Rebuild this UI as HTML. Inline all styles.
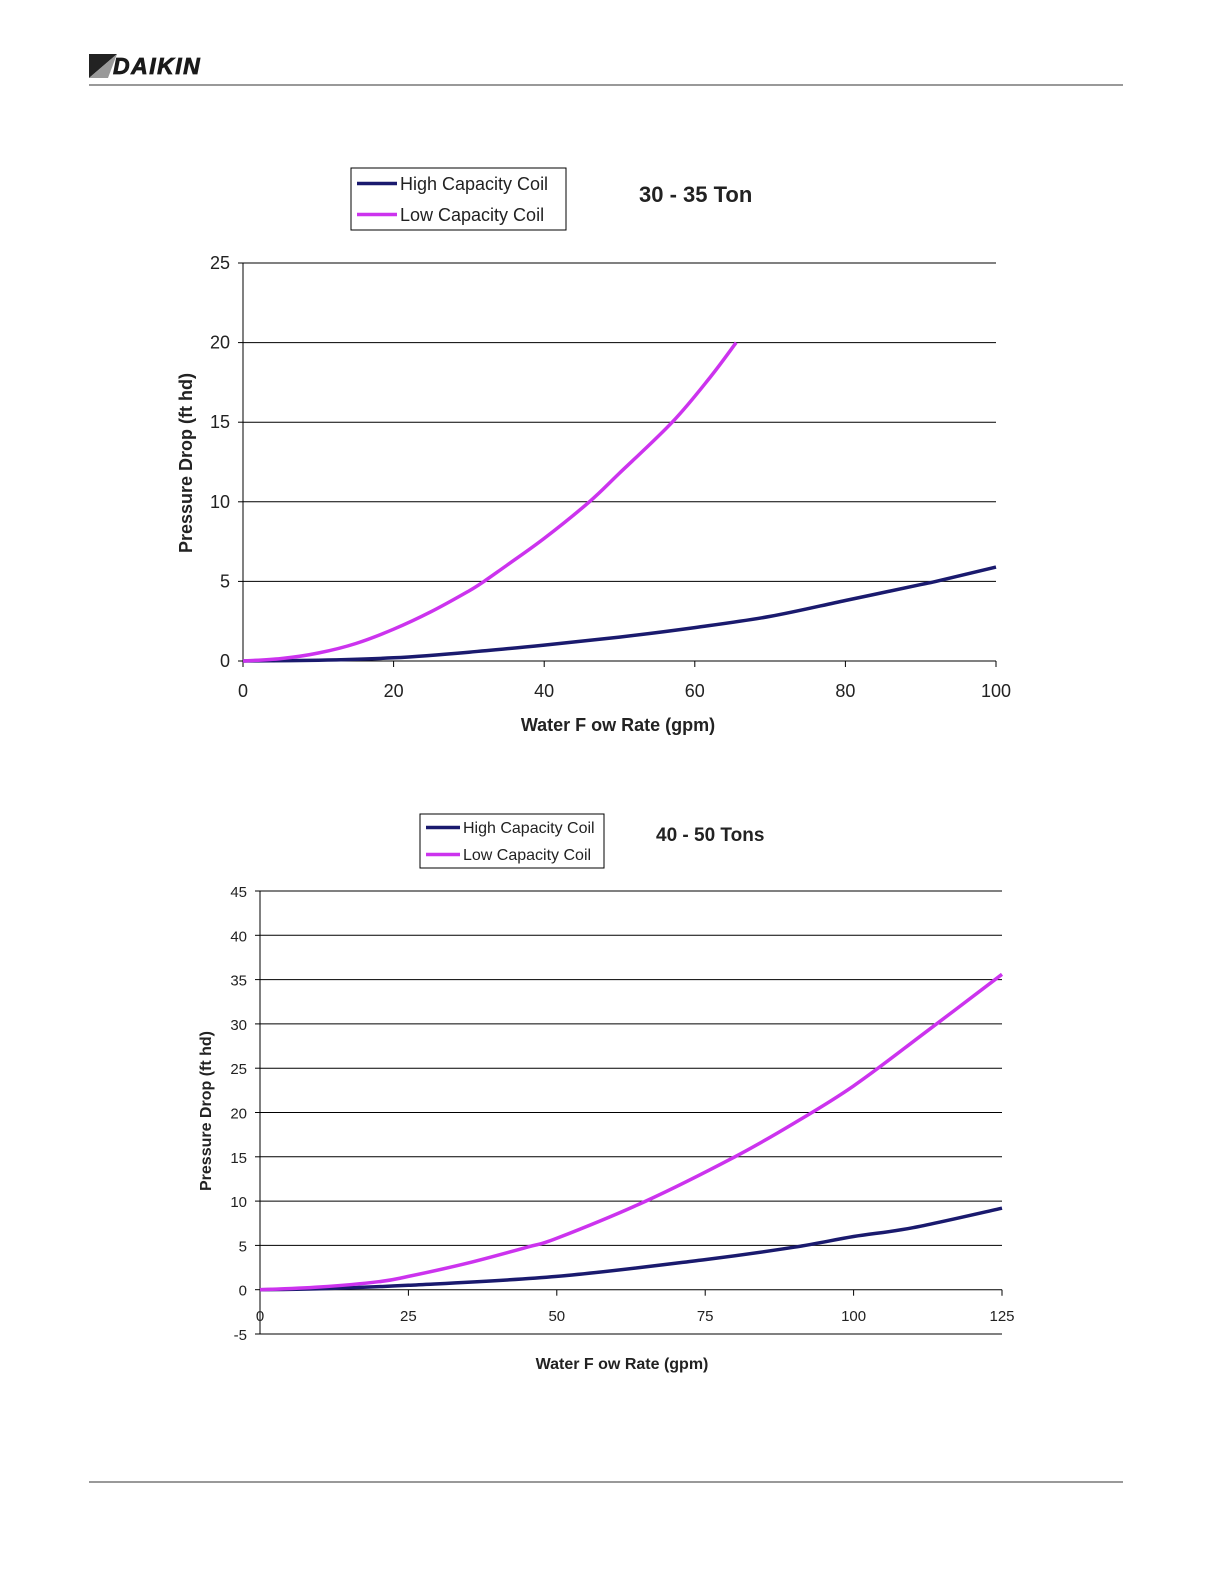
<!DOCTYPE html>
<html><head><meta charset="utf-8">
<style>
body{margin:0;background:#fff;font-family:"Liberation Sans",sans-serif;}
#page{position:relative;width:1224px;height:1584px;overflow:hidden;}
</style></head>
<body>
<div id="page">
<svg width="1224" height="1584" xmlns="http://www.w3.org/2000/svg" font-family="Liberation Sans, sans-serif">
  <g>
    <polygon points="89,54 117,54 89,78" fill="#222"/>
    <polygon points="89,78 117,54 108,78" fill="#999"/>
    <text x="113" y="74" font-size="23" font-weight="900" font-style="italic" fill="#1a1a1a" letter-spacing="1.5" stroke="#1a1a1a" stroke-width="0.8">DAIKIN</text>
  </g>
  <line x1="89" y1="85" x2="1123" y2="85" stroke="#333" stroke-width="1"/>
  <line x1="89" y1="1482" x2="1123" y2="1482" stroke="#333" stroke-width="1"/>
  <g id="c1"></g>
  <g id="c2"></g>
</svg>
</div>
<script>
const c1X = [0,5,10,15,20,25,30,32,35,40,46,50,57,62,65.5];
const c1Low = [0,0.15,0.5,1.1,2,3.1,4.4,5,6,7.7,10,11.8,15,17.8,20];
const c1HighX = [0,10,20,30,40,50,60,70,80,90,92,100];
const c1High = [0,0.05,0.2,0.55,1,1.5,2.1,2.8,3.8,4.8,5,5.9];
const c1XTicks = [0,20,40,60,80,100];
const c1YTicks = [0,5,10,15,20,25];

const c2X = [0,10,20,25,35,45,50,65,80,90,100,112,125];
const c2Low = [0,0.3,0.9,1.5,3,4.8,5.8,10,15,18.8,23,29,35.6];
const c2HighX = [0,10,25,50,75,90,100,110,125];
const c2High = [0,0.1,0.5,1.5,3.4,4.8,6,7,9.2];
const c2XTicks = [0,25,50,75,100,125];
const c2YTicks = [-5,0,5,10,15,20,25,30,35,40,45];

const NS="http://www.w3.org/2000/svg";
function mk(parent,tag,attrs,text){const e=document.createElementNS(NS,tag);for(const k in attrs)e.setAttribute(k,attrs[k]);if(text!==undefined)e.textContent=text;parent.appendChild(e);return e;}
function smooth(pts){
  let d='M'+pts[0][0].toFixed(1)+','+pts[0][1].toFixed(1);
  for(let i=0;i<pts.length-1;i++){
    const p0=pts[Math.max(0,i-1)],p1=pts[i],p2=pts[i+1],p3=pts[Math.min(pts.length-1,i+2)];
    const c1=[p1[0]+(p2[0]-p0[0])/6,p1[1]+(p2[1]-p0[1])/6];
    const c2=[p2[0]-(p3[0]-p1[0])/6,p2[1]-(p3[1]-p1[1])/6];
    d+=` C${c1[0].toFixed(1)},${c1[1].toFixed(1)} ${c2[0].toFixed(1)},${c2[1].toFixed(1)} ${p2[0].toFixed(1)},${p2[1].toFixed(1)}`;
  }
  return d;
}

function draw(g,o){
  const sx=v=>o.x0+(v-o.xmin)/(o.xmax-o.xmin)*(o.x1-o.x0);
  const sy=v=>o.y0-(v-o.ymin)/(o.ymax-o.ymin)*(o.y0-o.y1);
  o.yTicks.forEach(t=>{
    const l=mk(g,'line',{x1:o.x0,x2:o.x1,y1:sy(t),y2:sy(t),stroke:'#000','stroke-width':1});
    
    
    const tk=mk(g,'line',{x1:o.x0-5,x2:o.x0,y1:sy(t),y2:sy(t),stroke:'#000'});
    
    
    const tx=mk(g,'text',{x:o.x0-13,y:sy(t)+6,'text-anchor':'end','font-size':o.fs,fill:'#222'},t);
    
    
  });
  const ya=mk(g,'line',{x1:o.x0,x2:o.x0,y1:o.y1,y2:sy(o.ymin),stroke:'#000'});
  
  
  o.xTicks.forEach(t=>{
    const tk=mk(g,'line',{x1:sx(t),x2:sx(t),y1:sy(o.xAxisAt),y2:sy(o.xAxisAt)+6,stroke:'#000'});
    
    
    const tx=mk(g,'text',{x:sx(t),y:o.xLabY,'text-anchor':'middle','font-size':o.fs,fill:'#222'},t);
    
    
  });
  const series=[[o.hx,o.hy,'#1a1a6e','high-capacity-line'],[o.lx,o.ly,'#cc33ee','low-capacity-line']];
  series.forEach(s=>{
    const pts=s[0].map((x,i)=>[sx(x),sy(s[1][i])]);
    const p=mk(g,'path',{d:smooth(pts),fill:'none',stroke:s[2],'stroke-width':3.5,'stroke-linejoin':'round'});
    
    
  });
  const xt=mk(g,'text',{x:o.xtX,y:o.xtY,'text-anchor':'middle','font-size':o.tfs,'font-weight':'bold',fill:'#222'},'Water F ow Rate (gpm)');
  
  
  const yt=mk(g,'text',{x:0,y:0,transform:`translate(${o.ytX},${o.ytY}) rotate(-90)`,'text-anchor':'middle','font-size':o.tfs,'font-weight':'bold',fill:'#222'},'Pressure Drop (ft hd)');
  
  
  const ti=mk(g,'text',{x:o.tX,y:o.tY,'font-size':o.titfs,'font-weight':'bold',fill:'#222'},o.title);
  
  
  const lg=mk(g,'g',{});
  
  
  mk(lg,'rect',{x:o.lgX,y:o.lgY,width:o.lgW,height:o.lgH,fill:'#fff',stroke:'#000'});
  [['High Capacity  Coil','#1a1a6e'],['Low Capacity  Coil','#cc33ee']].forEach((e,i)=>{
    const yy=o.lgY+o.lgH*(0.25+0.5*i);
    const le=mk(lg,'g',{});
    
    
    mk(le,'line',{x1:o.lgX+6,x2:o.lgX+6+o.lgL,y1:yy,y2:yy,stroke:e[1],'stroke-width':3.5});
    mk(le,'text',{x:o.lgX+9+o.lgL,y:yy+o.lfs*0.35,'font-size':o.lfs,fill:'#222'},e[0]);
  });
}
draw(document.getElementById('c1'),{x0:243,x1:996,y0:661,y1:263,xmin:0,xmax:100,ymin:0,ymax:25,xAxisAt:0,
  xTicks:c1XTicks,yTicks:c1YTicks,hx:c1HighX,hy:c1High,lx:c1X,ly:c1Low,fs:18,tfs:18,xLabY:697,
  xtX:618,xtY:731,ytX:192,ytY:463,title:'30 - 35 Ton',tX:639,tY:202,titfs:22,
  lgX:351,lgY:168,lgW:215,lgH:62,lgL:40,lfs:18});
draw(document.getElementById('c2'),{x0:260,x1:1002,y0:1334,y1:891,xmin:0,xmax:125,ymin:-5,ymax:45,xAxisAt:0,
  xTicks:c2XTicks,yTicks:c2YTicks,hx:c2HighX,hy:c2High,lx:c2X,ly:c2Low,fs:15,tfs:16,xLabY:1321,
  xtX:622,xtY:1369,ytX:211,ytY:1111,title:'40 - 50 Tons',tX:656,tY:841,titfs:19,
  lgX:420,lgY:814,lgW:184,lgH:54,lgL:34,lfs:16});
</script>
</body></html>
